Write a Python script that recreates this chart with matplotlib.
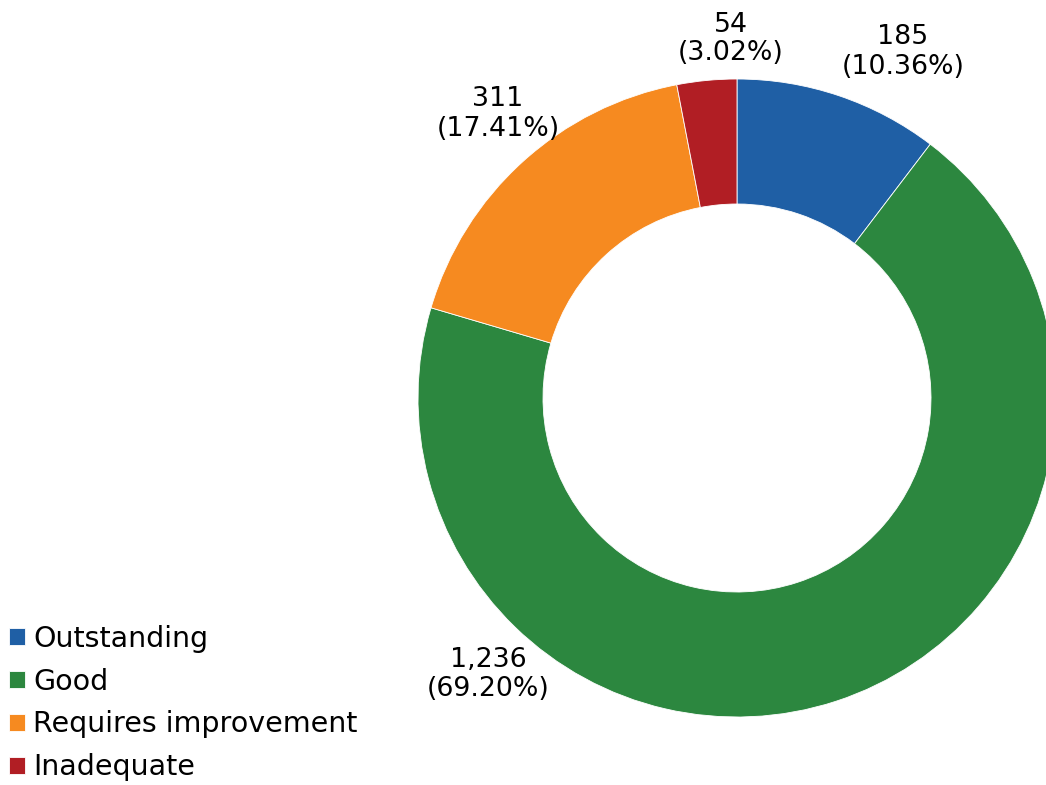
import matplotlib.pyplot as plt

categories = ["Outstanding", "Good", "Requires improvement", "Inadequate"]
counts = [185, 1236, 311, 54]
percents = [10.36, 69.20, 17.41, 3.02]
colors = ["#1f5fa5", "#2c873f", "#f68a20", "#b11e24"]

# where the value labels sit (pixels from bottom-left)
label_pos = [(903, 733), (488, 110), (498, 671), (731, 746)]

fig = plt.figure(figsize=(10.46, 7.85), dpi=100)
ax = fig.add_axes([0, 0, 1, 1])

wedges, _ = ax.pie(counts, colors=colors, startangle=90, counterclock=False,
                   center=(737, 387), radius=319,
                   wedgeprops=dict(width=125, edgecolor="white", linewidth=0.6))
ax.set_xlim(0, 1046)
ax.set_ylim(0, 785)
ax.set_aspect("equal")
ax.axis("off")

for n, p, (x, y) in zip(counts, percents, label_pos):
    ax.text(x, y, f"{n:,}\n({p:.2f}%)", ha="center", va="center",
            fontsize=19.3, linespacing=1.15)

ax.legend(wedges, categories, loc="lower left", bbox_to_anchor=(0.0075, 0.003),
          bbox_transform=fig.transFigure, frameon=False, fontsize=20.5,
          handlelength=0.55, handleheight=0.55, handletextpad=0.3,
          labelspacing=0.52, borderpad=0.05, borderaxespad=0.0)

fig.savefig("out.png", dpi=100)
